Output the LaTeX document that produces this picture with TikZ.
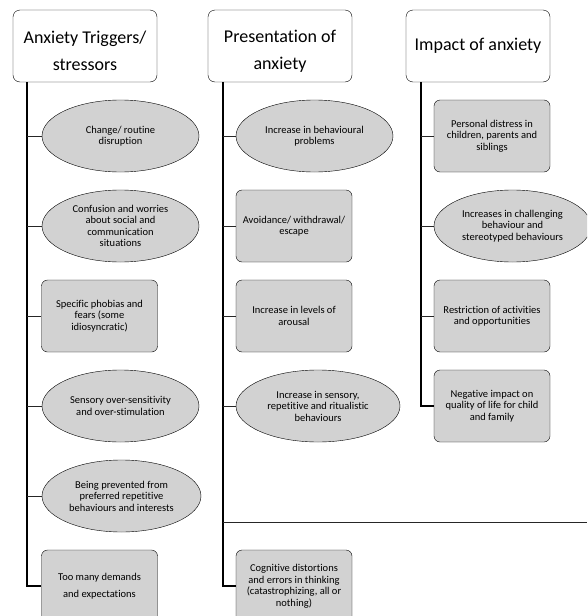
\documentclass[tikz,border=0pt]{standalone}
\usepackage{fontspec}
\setmainfont{Carlito}[Ligatures=NoCommon]
\usetikzlibrary{shapes.geometric}
\begin{document}
\begin{tikzpicture}[x=1pt, y=-1pt]
			\tikzset{titre/.style={draw=black, rounded corners=7pt, fill=white, minimum width=144pt, minimum height=72pt, align=center, font=\fontsize{18}{27}\selectfont},
				bulle/.style={ellipse, draw=black, fill=gris, inner sep=0pt, minimum width=157pt, minimum height=72pt, align=center, font=\fontsize{10.5}{11.5}\selectfont},
				boite/.style={draw=black, rounded corners=6pt, fill=gris, inner sep=2pt, minimum width=116pt, minimum height=72pt, align=center, font=\fontsize{10.5}{11.5}\selectfont},
				tronc/.style={line width=1.6pt, black},
				branche/.style={line width=0.8pt, black!85}};
			\definecolor{gris}{RGB}{210,210,210}

			\clip (0,0) rectangle (587,616);

			\node[titre] (t1) at (  85,  46) {\rule{0pt}{22pt}Anxiety Triggers/\\stressors};
			\node[titre] (t2) at ( 280,  46) {\rule{0pt}{22pt}Presentation of\\anxiety};
			\node[titre] (t3) at ( 478,  46) {Impact of anxiety};

			\coordinate (a1) at ([xshift=14pt]t1.south west);
			\coordinate (a2) at ([xshift=15pt]t2.south west);
			\coordinate (a3) at ([xshift=15pt]t3.south west);
			\coordinate (fin) at (587, 522);

			\node[bulle] (g1) at (120.5, 136) {Change/ routine\\disruption};
			\node[bulle] (g2) at (120.5, 226) {Confusion and worries\\about social and\\communication\\situations};
			\node[boite] (g3) at ( 99.5, 316) {Specific phobias and\\fears (some\\idiosyncratic)};
			\node[bulle] (g4) at (120.5, 406) {Sensory over-sensitivity\\and over-stimulation};
			\node[bulle, minimum width=159pt] (g5) at (121.5, 496) {Being prevented from\\preferred repetitive\\behaviours and interests};
			\node[boite, font=\fontsize{10.5}{17}\selectfont] (g6) at ( 99.5, 586) {Too many demands\\and expectations};

			\node[bulle] (m1) at (314.5, 136) {Increase in behavioural\\problems};
			\node[boite] (m2) at ( 294, 226) {Avoidance/ withdrawal/\\escape};
			\node[boite] (m3) at ( 294, 316) {Increase in levels of\\arousal};
			\node[bulle, minimum width=164pt] (m4) at ( 318, 406) {Increase in sensory,\\repetitive and ritualistic\\behaviours};
			\node[boite] (m5) at ( 294, 586) {Cognitive distortions\\and errors in thinking\\(catastrophizing, all or\\nothing)};

			\node[boite] (r1) at ( 492, 136) {Personal distress in\\children, parents and\\siblings};
			\node[bulle] (r2) at (512.5, 226) {Increases in challenging\\behaviour and\\stereotyped behaviours};
			\node[boite] (r3) at ( 492, 316) {Restriction of activities\\and opportunities};
			\node[boite] (r4) at ( 492, 406) {Negative impact on\\quality of life for child\\and family};

			% troncs
			\draw[tronc] (a1) |- (g6.west);
			\draw[tronc] (a2) |- (m5.west);
			\draw[tronc] (a3) |- (r4.west);
			\draw[branche] (fin -| a2) -- (fin);

			% branches
			\foreach \n in {g1, g2, g3, g4, g5}
				\draw[branche] (\n.west -| a1) -- (\n.west);
			\foreach \n in {m1, m2, m3, m4}
				\draw[branche] (\n.west -| a2) -- (\n.west);
			\foreach \n in {r1, r2, r3}
				\draw[branche] (\n.west -| a3) -- (\n.west);

\end{tikzpicture}
\end{document}
